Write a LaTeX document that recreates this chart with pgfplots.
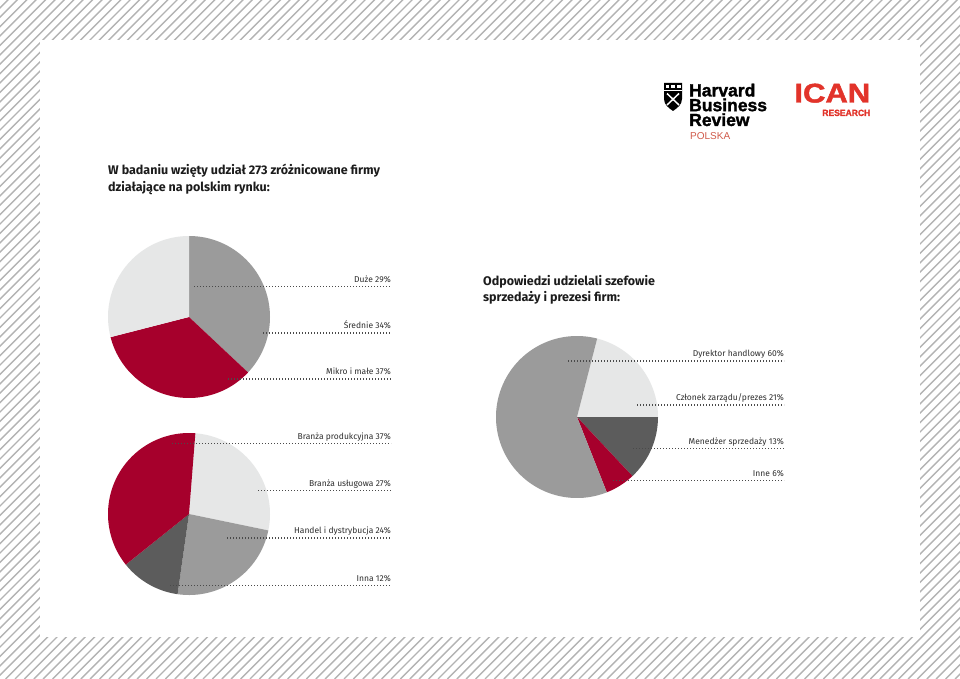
\documentclass[border=0pt]{standalone}
\usepackage{pgfplots}
\pgfplotsset{compat=1.18}
\usepackage{fontspec}
\setmainfont{Fira Sans}
\newfontfamily\logofont{Liberation Sans}[BoldFeatures={FakeBold=1.6}]

\definecolor{pmid}{HTML}{9B9B9B}
\definecolor{plight}{HTML}{E6E7E7}
\definecolor{pdark}{HTML}{5C5C5C}
\definecolor{pred}{HTML}{A6002C}
\definecolor{lead}{HTML}{4A4A4A}
\definecolor{txt}{HTML}{2E2E2E}
\definecolor{head}{HTML}{1C1C1C}
\definecolor{hatch}{HTML}{B3B3B3}
\definecolor{hbrred}{HTML}{D05A4A}
\definecolor{icanred}{HTML}{E2332A}

% pie: centre x, centre y (image coords), start angle, list value/colour (clockwise)
\newcommand{\pie}[4]{%
  \xdef\pieA{#3}%
  \foreach \v/\c in {#4}{%
    \pgfmathsetmacro\pieB{\pieA-3.6*\v}%
    \edef\temp{\noexpand\fill[\c] (axis cs:#1,#2) -- ++(\pieA:81pt)
      arc[start angle=\pieA,end angle=\pieB,radius=81pt] -- cycle;}%
    \temp
    \xdef\pieA{\pieB}%
  }%
}
% leader: x start, x end, y, label
\newcommand{\leader}[4]{%
  \draw[lead, line width=1.1pt, dash pattern=on 1.1pt off 1.9pt]
    (axis cs:#1,#3) -- (axis cs:#2,#3);
  \node[anchor=base east, inner sep=0, text=txt, font=\fontsize{8.5}{10}\selectfont]
    at (axis cs:#2,{#3-4.5}) {#4};
}

\begin{document}
\begin{tikzpicture}
\useasboundingbox (0,0) rectangle (960pt,679pt);
\begin{scope}
  \clip (0,0) rectangle (960pt,679pt);
  \foreach \i in {-690,-680.6,...,960}
    \draw[hatch, line width=1.4pt] (\i pt,0) -- ++(700pt,700pt);
\end{scope}
\fill[white] (40pt,42pt) rectangle (920pt,639pt);

\begin{axis}[
  at={(0,0)}, anchor=south west,
  scale only axis, width=960pt, height=679pt,
  xmin=0, xmax=960, ymin=0, ymax=679,
  y dir=reverse,
  hide axis, clip=false,
]
% firm size
\pie{189}{317}{90}{37/pmid,34/pred,29/plight}
% industry
\pie{189}{514}{85.5}{27/plight,24/pmid,12/pdark,37/pred}
% respondents
\pie{577}{417}{75.6}{21/plight,13/pdark,6/pred,60/pmid}

\leader{194}{391}{286.5}{Duże 29\%}
\leader{263}{391}{333}{Średnie 34\%}
\leader{228}{391}{379}{Mikro i małe 37\%}

\leader{172}{391}{443.5}{Branża produkcyjna 37\%}
\leader{258}{391}{490.5}{Branża usługowa 27\%}
\leader{227}{391}{538}{Handel i dystrybucja 24\%}
\leader{170}{391}{585.5}{Inna 12\%}

\leader{568}{784}{361}{Dyrektor handlowy 60\%}
\leader{637}{784}{405}{Członek zarządu/prezes 21\%}
\leader{633}{784}{448.5}{Menedżer sprzedaży 13\%}
\leader{613}{784}{480.5}{Inne 6\%}

\node[anchor=base west, inner sep=0, text=head, font=\fontsize{12.5}{14}\selectfont\bfseries]
  at (axis cs:108,174.5) {W badaniu wzięty udział 273 zróżnicowane firmy};
\node[anchor=base west, inner sep=0, text=head, font=\fontsize{12.5}{14}\selectfont\bfseries]
  at (axis cs:108,191.5) {działające na polskim rynku:};
\node[anchor=base west, inner sep=0, text=head, font=\fontsize{12.5}{14}\selectfont\bfseries]
  at (axis cs:483,285) {Odpowiedzi udzielali szefowie};
\node[anchor=base west, inner sep=0, text=head, font=\fontsize{12.5}{14}\selectfont\bfseries]
  at (axis cs:483,301.5) {sprzedaży i prezesi firm:};

% HBR shield
\fill[black] (axis cs:664,83) -- (axis cs:682,83) -- (axis cs:682,99)
  .. controls (axis cs:682,105) and (axis cs:677,108) .. (axis cs:673,111)
  .. controls (axis cs:669,108) and (axis cs:664,105) .. (axis cs:664,99) -- cycle;
\fill[white] (axis cs:665.5,85) rectangle (axis cs:669.2,88);
\fill[white] (axis cs:671.2,85) rectangle (axis cs:674.8,88);
\fill[white] (axis cs:676.8,85) rectangle (axis cs:680.5,88);
\draw[white, line width=0.8pt] (axis cs:664,90.5) -- (axis cs:682,90.5);
\draw[white, line width=1.5pt] (axis cs:667,93.5) -- (axis cs:679,105);
\draw[white, line width=1.5pt] (axis cs:679,93.5) -- (axis cs:667,105);

\node[anchor=north west, inner sep=0, align=left,
      font=\logofont\fontsize{17.5}{14.8}\selectfont\bfseries]
  at (axis cs:689,83.5) {Harvard\\Business\\Review};
\node[anchor=base west, inner sep=0, text=hbrred, font=\logofont\fontsize{10}{12}\selectfont]
  at (axis cs:690,139.5) {POLSKA};

\node[anchor=base east, inner sep=0, text=icanred, font=\logofont\fontsize{27}{30}\selectfont\bfseries]
  at (axis cs:870.5,102.5) {\scalebox{1.15}[1]{ICAN}};
\node[anchor=base east, inner sep=0, text=icanred, font=\logofont\fontsize{9}{11}\selectfont\bfseries]
  at (axis cs:870.5,116) {\scalebox{0.95}[1]{RESEARCH}};
\end{axis}
\end{tikzpicture}
\end{document}
